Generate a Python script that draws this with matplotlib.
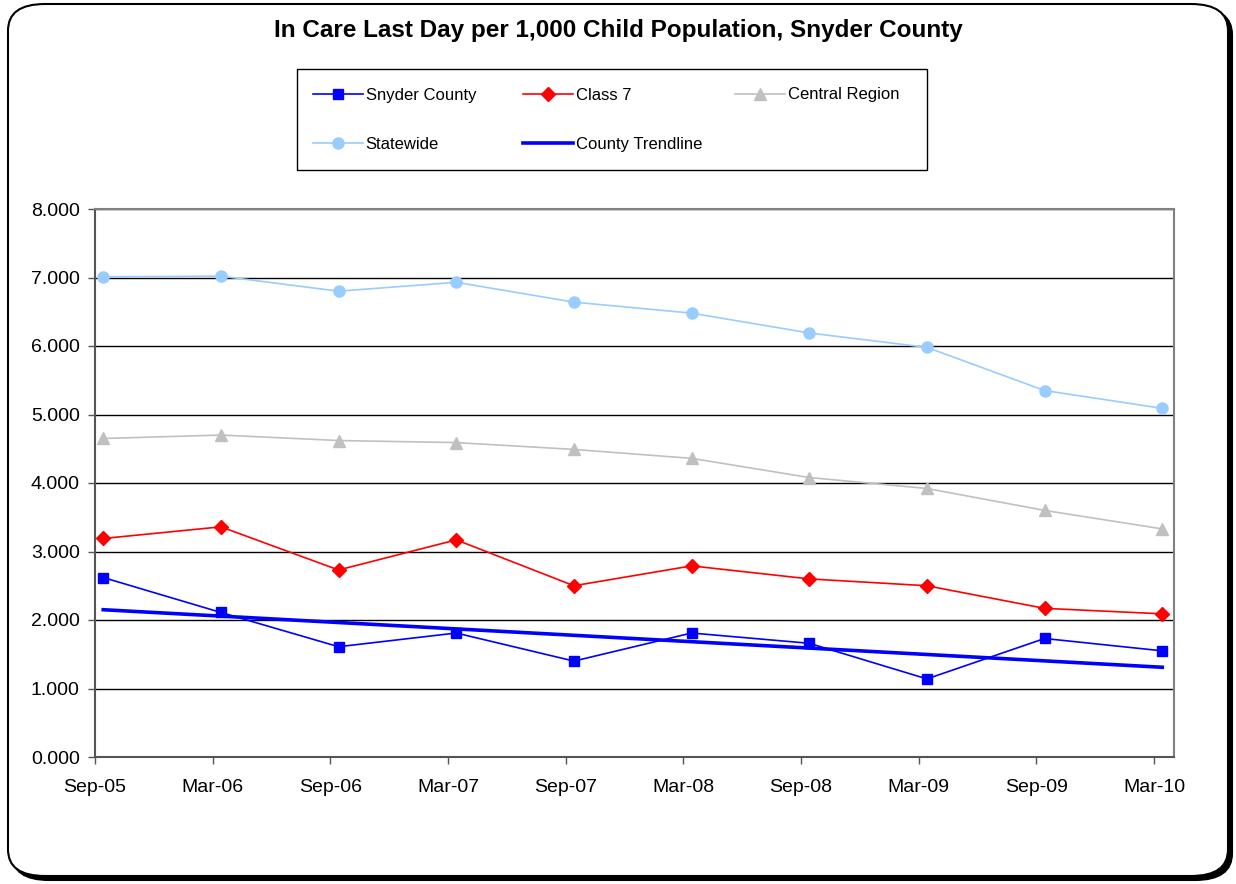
import matplotlib
matplotlib.use("Agg")
from matplotlib import pyplot as plt
from matplotlib.patches import FancyBboxPatch, Rectangle

periods = ['Sep-05', 'Mar-06', 'Sep-06', 'Mar-07', 'Sep-07',
           'Mar-08', 'Sep-08', 'Mar-09', 'Sep-09', 'Mar-10']
snyder = [2.62, 2.11, 1.61, 1.81, 1.40, 1.81, 1.66, 1.14, 1.73, 1.55]
class7 = [3.19, 3.36, 2.73, 3.17, 2.50, 2.79, 2.60, 2.50, 2.17, 2.09]
central = [4.65, 4.70, 4.62, 4.59, 4.49, 4.36, 4.08, 3.92, 3.60, 3.33]
statewide = [7.01, 7.02, 6.80, 6.93, 6.64, 6.48, 6.19, 5.98, 5.35, 5.09]
trend_ends = [2.15, 1.31]

plt.rcParams['font.family'] = ['Liberation Sans', 'DejaVu Sans']

W, H = 1236, 884
fig = plt.figure(figsize=(W / 100, H / 100), dpi=100)

# rounded outer frame with a drop shadow
shadow = FancyBboxPatch((12 / W, 4 / H), 1220 / W, 872 / H,
                        boxstyle="round,pad=0,rounding_size=0.03",
                        transform=fig.transFigure, facecolor='black',
                        edgecolor='black', lw=1.5, zorder=0)
frame = FancyBboxPatch((8 / W, 8 / H), 1220 / W, 872 / H,
                       boxstyle="round,pad=0,rounding_size=0.03",
                       transform=fig.transFigure, facecolor='white',
                       edgecolor='black', lw=1.5, zorder=1)
fig.patches.extend([shadow, frame])

fig.text(0.5, 1 - 30 / H, 'In Care Last Day per 1,000 Child Population, Snyder County',
         ha='center', va='center', fontsize=17.5, fontweight='bold')

ax = fig.add_axes([95 / W, 1 - 757 / H, 1079 / W, 548 / H])
ax.set_zorder(2)

xs = [i + 0.07 for i in range(len(periods))]

l_sny, = ax.plot(xs, snyder, color='#0000FF', lw=1.2, marker='s', ms=7.5,
                 label='Snyder County', zorder=5)
l_c7, = ax.plot(xs, class7, color='#FF0000', lw=1.2, marker='D', ms=7,
                label='Class 7', zorder=4)
l_cen, = ax.plot(xs, central, color='#C0C0C0', lw=1.2, marker='^', ms=9,
                 label='Central Region', zorder=3)
l_sw, = ax.plot(xs, statewide, color='#99CCFF', lw=1.2, marker='o', ms=8,
                label='Statewide', zorder=3)
l_tr, = ax.plot([xs[0], xs[-1]], trend_ends, color='#0000FF', lw=2.6,
                label='County Trendline', zorder=6)

ax.set_xlim(0, 9.17)
ax.set_ylim(0, 8)
ax.set_xticks(range(len(periods)))
ax.set_xticklabels(periods)
ax.set_yticks(range(0, 9))
ax.set_yticklabels(['%.3f' % v for v in range(0, 9)])
ax.tick_params(axis='both', labelsize=14, length=5, width=1, color='#555555',
               direction='out')
ax.tick_params(axis='x', pad=11)
ax.tick_params(axis='y', pad=6)
ax.yaxis.grid(True, color='black', lw=1)
ax.set_axisbelow(True)
for name, sp in ax.spines.items():
    sp.set_color('#808080' if name in ('top', 'right') else '#555555')
    sp.set_linewidth(1.5)

# legend box: equal width columns like Excel, one legend per column
box = Rectangle((297 / W, 1 - 170 / H), 630 / W, 101 / H, transform=fig.transFigure,
                facecolor='white', edgecolor='black', lw=1.0, zorder=2)
fig.patches.append(box)
columns = [([l_sny, l_sw], 313), ([l_c7, l_tr], 523), ([l_cen], 735)]
for hs, x0 in columns:
    yc = 120 if len(hs) == 2 else 95
    leg = fig.legend(hs, [h.get_label() for h in hs], loc='center left',
                     bbox_to_anchor=(x0 / W, 1 - yc / H), fontsize=12,
                     frameon=False, handlelength=3.0, handletextpad=0.15,
                     labelspacing=2.05, borderaxespad=0.0, borderpad=0.0)
    leg.set_zorder(3)

fig.savefig('out.png', dpi=100)
